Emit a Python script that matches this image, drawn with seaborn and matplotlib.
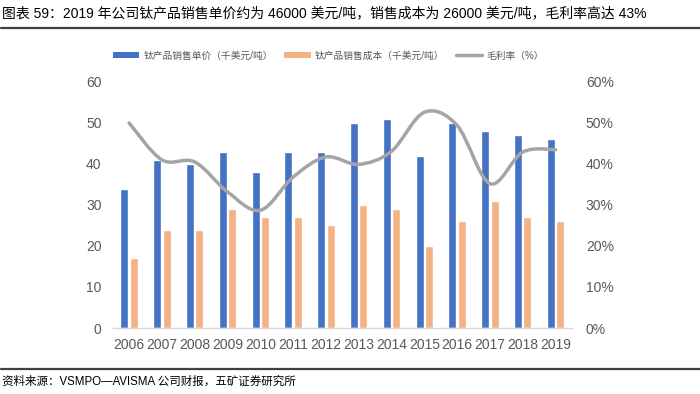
import numpy as np
import pandas as pd
import matplotlib
matplotlib.use("Agg")
import matplotlib.pyplot as plt
import seaborn as sns
from matplotlib.path import Path
from matplotlib.patches import PathPatch, Patch
from matplotlib.lines import Line2D
from matplotlib.ticker import PercentFormatter

years = ["2006", "2007", "2008", "2009", "2010", "2011", "2012",
         "2013", "2014", "2015", "2016", "2017", "2018", "2019"]
price = [34, 41, 40, 43, 38, 43, 43, 50, 51, 42, 50, 48, 47, 46]
cost = [17, 24, 24, 29, 27, 27, 25, 30, 29, 20, 26, 31, 27, 26]
margin = [0.50, 0.41, 0.405, 0.332, 0.287, 0.368, 0.417, 0.399, 0.431,
          0.526, 0.494, 0.352, 0.429, 0.435]

s_price = "钛产品销售单价（千美元/吨）"
s_cost = "钛产品销售成本（千美元/吨）"
s_margin = "毛利率（%）"
title = "图表 59：2019 年公司钛产品销售单价约为 46000 美元/吨，销售成本为 26000 美元/吨，毛利率高达 43%"
source = "资料来源：VSMPO—AVISMA 公司财报，五矿证券研究所"

BLUE = "#4472C4"
ORANGE = "#F4B183"
GRAY = "#A5A5A5"
TXT = "#595959"

sns.set_theme(style="white")
plt.rcParams['font.family'] = ['Liberation Sans', 'Noto Sans CJK SC', 'DejaVu Sans']

fig = plt.figure(figsize=(7, 3.94), dpi=100)
ax = fig.add_axes([0.161, 0.1675, 0.656, 0.6245])

df = pd.DataFrame({
    "year": years * 2,
    "value": price + cost,
    "series": [s_price] * len(years) + [s_cost] * len(years),
})
sns.barplot(data=df, x="year", y="value", hue="series",
            palette=[BLUE, ORANGE], saturation=1, width=0.58, gap=0.15,
            legend=False, ax=ax)

ax.set_xlim(-0.5, len(years) - 0.5)
ax.set_ylim(0, 60)
ax.set_yticks(range(0, 61, 10))
ax.set_xlabel("")
ax.set_ylabel("")
for sp in ["top", "left", "right"]:
    ax.spines[sp].set_visible(False)
ax.spines["bottom"].set_color("#D9D9D9")
ax.spines["bottom"].set_linewidth(1)
ax.tick_params(axis="y", length=0, labelsize=10, labelcolor=TXT, pad=8)
ax.tick_params(axis="x", length=0, labelsize=10, labelcolor=TXT, pad=7)

ax2 = ax.twinx()
ax2.set_ylim(0, 0.6)
ax2.set_yticks(np.arange(0, 0.61, 0.1))
ax2.yaxis.set_major_formatter(PercentFormatter(1, decimals=0))
for sp in ax2.spines.values():
    sp.set_visible(False)
ax2.tick_params(axis="y", length=0, labelsize=10, labelcolor=TXT, pad=10)

# smoothed line (Catmull-Rom as Bezier curve through the data points)
xs = np.arange(len(margin), dtype=float)
ys = np.array(margin, dtype=float)
P = np.column_stack([xs, ys])
Pext = np.vstack([P[0], P, P[-1]])
verts = [tuple(P[0])]
codes = [Path.MOVETO]
for i in range(len(P) - 1):
    p0, p1, p2, p3 = Pext[i], Pext[i + 1], Pext[i + 2], Pext[i + 3]
    c1 = p1 + (p2 - p0) / 6.0
    c2 = p2 - (p3 - p1) / 6.0
    verts += [tuple(c1), tuple(c2), tuple(p2)]
    codes += [Path.CURVE4] * 3
ax2.add_patch(PathPatch(Path(verts, codes), fill=False, edgecolor=GRAY,
                        lw=2.5, capstyle="round", joinstyle="round"))

handles = [Patch(facecolor=BLUE, edgecolor="none"),
           Patch(facecolor=ORANGE, edgecolor="none"),
           Line2D([0], [0], color=GRAY, lw=2.5)]
fig.legend(handles, [s_price, s_cost, s_margin], loc="center",
           bbox_to_anchor=(0.469, 1 - 55.5 / 394), ncol=3, frameon=False,
           fontsize=7.0, labelcolor=TXT, handlelength=2.7, handleheight=0.55,
           handletextpad=0.4, columnspacing=1.2)

fig.text(0.003, 0.967, title, fontsize=10, color="black", ha="left", va="center")
fig.add_artist(Line2D([0.002, 1], [1 - 27.5 / 394] * 2, transform=fig.transFigure,
                      color="#404040", lw=1.6))
fig.add_artist(Line2D([0.002, 1], [1 - 369 / 394] * 2, transform=fig.transFigure,
                      color="#404040", lw=1.6))
fig.text(0.003, 1 - 382 / 394, source, fontsize=8.3, color="black",
         ha="left", va="center")

fig.savefig("out.png", dpi=100)
